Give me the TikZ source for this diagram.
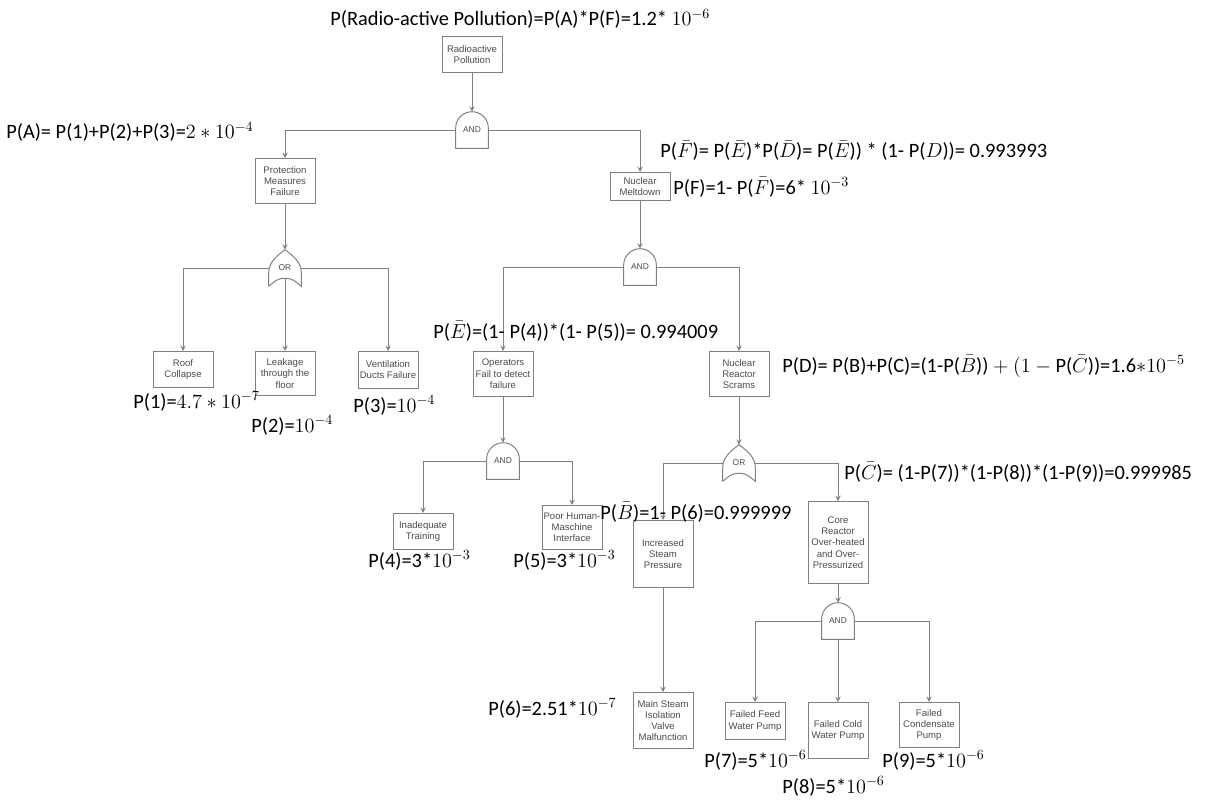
\documentclass[tikz,border=0pt]{standalone}
\usepackage{fontspec}
\setmainfont{Carlito}
\newfontfamily\boxfont{Liberation Sans}
\usetikzlibrary{positioning}
\usepgflibrary{arrows}

\tikzset{
	link/.style = {draw=gray, line width=0.7pt, ->, >=stealth},
	event/.style = {draw=gray, line width=0.7pt, text=black!70, align=center,
		anchor=north, minimum width=1.5cm, inner sep=1pt,
		font=\boxfont\fontsize{6.8}{8}\selectfont},
	gate/.style = {minimum width=0.8cm, minimum height=0.9cm, inner sep=0pt,
		text=black!70, font=\boxfont\fontsize{6}{7}\selectfont},
	gateline/.style = {draw=gray, line width=0.7pt},
	prob/.style = {anchor=base west, inner sep=0pt,
		font=\fontsize{14.5}{17}\selectfont}
}

\begin{document}
\begin{tikzpicture}[x=0.025cm, y=-0.025cm]
	\fill[white] (0,0) rectangle (1220,801);
	\useasboundingbox (0,0) rectangle (1220,801);

	% events
	\node[event, minimum height=0.9cm]   (rp)  at (472,36)  {Radioactive\\Pollution};
	\node[event, minimum height=1.12cm]  (pmf) at (285,158) {Protection\\Measures\\Failure};
	\node[event, minimum height=0.7cm]   (nm)  at (640,172) {Nuclear\\Meltdown};
	\node[event, minimum height=0.9cm]   (rc)  at (183,351) {Roof\\Collapse};
	\node[event, minimum height=1.1cm]   (lk)  at (285,351) {Leakage\\through the\\floor};
	\node[event, minimum height=0.92cm]  (vd)  at (388,351) {Ventilation\\Ducts Failure};
	\node[event, minimum height=1.12cm]  (op)  at (503,351) {Operators\\Fail to detect\\failure};
	\node[event, minimum height=1.12cm]  (nrs) at (739,351) {Nuclear\\Reactor\\Scrams};
	\node[event, minimum height=0.9cm]   (it)  at (423,513) {Inadequate\\Training};
	\node[event, minimum height=1.1cm]   (ph)  at (572,505) {Poor Human-\\Maschine\\Interface};
	\node[event, minimum height=1.67cm]  (isp) at (663,520) {Increased\\Steam\\Pressure};
	\node[event, minimum height=2.05cm]  (cr)  at (838,501) {Core\\Reactor\\Over-heated\\and Over-\\Pressurized};
	\node[event, minimum height=1.4cm]   (ms)  at (663,692) {Main Steam\\Isolation\\Valve\\Malfunction};
	\node[event, minimum height=0.92cm]  (ff)  at (755,702) {Failed Feed\\Water Pump};
	\node[event, minimum height=1.4cm]   (fc)  at (838,702) {Failed Cold\\Water Pump};
	\node[event, minimum height=1.12cm]  (fcp) at (929,702) {Failed\\Condensate\\Pump};

	% gates
	\node[gate] (g1) at (472,130) {AND};
	\node[gate] (g2) at (285,268) {OR};
	\node[gate] (g3) at (640,267) {AND};
	\node[gate] (g4) at (503,461) {AND};
	\node[gate] (g5) at (739,463) {OR};
	\node[gate] (g6) at (838,621) {AND};

	\foreach \g in {g1,g3,g4,g6}
		\draw[gateline] (\g.south west) -- ([yshift=-0.4cm]\g.north west)
			.. controls +(0pt,0.22cm) and +(-0.22cm,0pt) .. (\g.north)
			.. controls +(0.22cm,0pt) and +(0pt,0.22cm) .. ([yshift=-0.4cm]\g.north east)
			-- (\g.south east) -- cycle;
	\foreach \g in {g2,g5}
		\draw[gateline] (\g.south west) -- ([yshift=0.35cm]\g.south west)
			.. controls +(0pt,0.25cm) and +(-0.2cm,-0.15cm) .. (\g.north)
			.. controls +(0.2cm,-0.15cm) and +(0pt,0.25cm) .. ([yshift=0.35cm]\g.south east)
			-- (\g.south east)
			.. controls +(-0.15cm,0.12cm) and +(0.2cm,0pt) .. ([yshift=0.2cm]\g.south)
			.. controls +(-0.2cm,0pt) and +(0.15cm,0.12cm) .. (\g.south west);

	% connectors
	\draw[link] (rp.south) -- (g1.north);
	\draw[link] (g1.west) -| (pmf.north);
	\draw[link] (g1.east) -| (nm.north);
	\draw[link] (pmf.south) -- (g2.north);
	\draw[link] (g2.west) -| (rc.north);
	\draw[link] ([yshift=0.2cm]g2.south) -- (lk.north);
	\draw[link] (g2.east) -| (vd.north);
	\draw[link] (nm.south) -- (g3.north);
	\draw[link] (g3.west) -| (op.north);
	\draw[link] (g3.east) -| (nrs.north);
	\draw[link] (op.south) -- (g4.north);
	\draw[link] (g4.west) -| (it.north);
	\draw[link] (g4.east) -| (ph.north);
	\draw[link] (nrs.south) -- (g5.north);
	\draw[link] (g5.west) -| (isp.north);
	\draw[link] (g5.east) -| (cr.north);
	\draw[link] (isp.south) -- (ms.north);
	\draw[link] (cr.south) -- (g6.north);
	\draw[link] (g6.west) -| (ff.north);
	\draw[link] (g6.south) -- (fc.north);
	\draw[link] (g6.east) -| (fcp.north);

	% probabilities
	\node[prob] (pTop) at (330,26)  {P(Radio-active Pollution)=P(A)*P(F)=1.2* $10^{-6}$};
	\node[prob] (pA)   at (6,139)   {P(A)= P(1)+P(2)+P(3)=$2\ast10^{-4}$};
	\node[prob] (pFb)  at (660,158) {P($\bar{F}$)= P($\bar{E}$)*P($\bar{D}$)= P($\bar{E}$)) * (1- P($D$))= 0.993993};
	\node[prob] (pF)   at (673,194) {P(F)=1- P($\bar{F}$)=6* $10^{-3}$};
	\node[prob] (pEb)  at (433,338) {P($\bar{E}$)=(1- P(4))*(1- P(5))= 0.994009};
	\node[prob] (pD)   at (782,372) {P(D)= P(B)+P(C)=(1-P($\bar{B}$)) $+\ (1-{}$P($\bar{C}$))=1.6$\ast$$10^{-5}$};
	\node[prob] (p1)   at (133,408) {P(1)=$4.7\ast10^{-7}$};
	\node[prob] (p2)   at (251,432) {P(2)=$10^{-4}$};
	\node[prob] (p3)   at (353,412) {P(3)=$10^{-4}$};
	\node[prob] (pCb)  at (844,479) {P($\bar{C}$)= (1-P(7))*(1-P(8))*(1-P(9))=0.999985};
	\node[prob] (pBb)  at (600,519) {P($\bar{B}$)=1- P(6)=0.999999};
	\node[prob] (p4)   at (368,567) {P(4)=3*$10^{-3}$};
	\node[prob] (p5)   at (513,567) {P(5)=3*$10^{-3}$};
	\node[prob] (p6)   at (488,715) {P(6)=2.51*$10^{-7}$};
	\node[prob] (p7)   at (704,767) {P(7)=5*$10^{-6}$};
	\node[prob] (p8)   at (782,793) {P(8)=5*$10^{-6}$};
	\node[prob] (p9)   at (882,767) {P(9)=5*$10^{-6}$};
\end{tikzpicture}
\end{document}
